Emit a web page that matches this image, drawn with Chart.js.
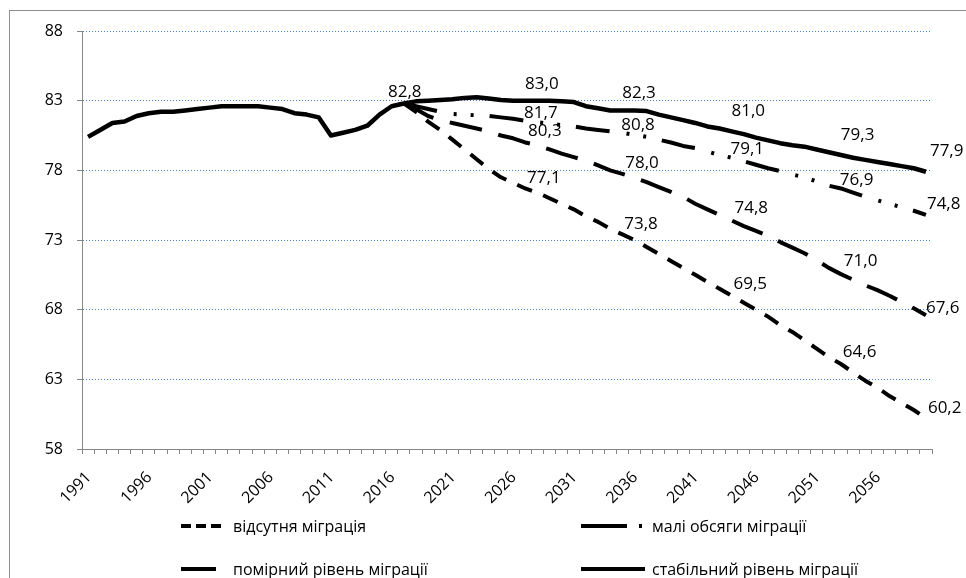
<!DOCTYPE html>
<html><head><meta charset="utf-8">
<script src="https://cdn.jsdelivr.net/npm/chart.js@4.4.1/dist/chart.umd.min.js"></script>
<style>
html,body{margin:0;padding:0;background:#fff;}
#wrap{position:relative;width:966px;height:578px;overflow:hidden;}
#frame{position:absolute;left:9px;top:10px;width:1000px;height:600px;border:1px solid #8e8e8e;box-sizing:border-box;}
canvas{position:absolute;left:0;top:0;}
.leg{position:absolute;height:20px;font-family:'Open Sans',sans-serif;font-size:16px;color:#000;white-space:nowrap;line-height:20px;display:flex;align-items:center;}
.leg svg{margin-right:7px;}
</style></head><body>
<div id="wrap"><div id="frame"></div><canvas id="c" width="966" height="578"></canvas><div id="legend"></div></div>
<script>
// categories
const years = ['1991','1992','1993','1994','1995','1996','1997','1998','1999','2000',
 '2001','2002','2003','2004','2005','2006','2007','2008','2009','2010',
 '2011','2012','2013','2014','2015','2016','2017','2018','2019','2020',
 '2021','2022','2023','2024','2025','2026','2027','2028','2029','2030',
 '2031','2032','2033','2034','2035','2036','2037','2038','2039','2040',
 '2041','2042','2043','2044','2045','2046','2047','2048','2049','2050',
 '2051','2052','2053','2054','2055','2056','2057','2058','2059','2060'];
// tick labels shown on the x axis
const xTickLabels = ['1991','1996','2001','2006','2011','2016','2021','2026','2031','2036','2041','2046','2051','2056'];

// actual data 1991–2017
const historical = [80.4, 80.9, 81.4, 81.5, 81.9, 82.1, 82.2, 82.2, 82.3, 82.4,
 82.5, 82.6, 82.6, 82.6, 82.6, 82.5, 82.4, 82.1, 82.0, 81.8,
 80.5, 80.7, 80.9, 81.2, 82.0, 82.6, 82.8];

// projections 2018–2060
const noMigration = [82.2, 81.5, 80.9, 80.2, 79.5, 78.8, 78.1, 77.5, 77.1,
 76.7, 76.4, 76.0, 75.6, 75.2, 74.7, 74.3, 73.8,
 73.4, 73.0, 72.5, 72.0, 71.5, 71.0, 70.5, 70.0, 69.5,
 69.0, 68.5, 68.0, 67.5, 66.9, 66.4, 65.8, 65.2, 64.6,
 64.1, 63.5, 62.9, 62.4, 61.8, 61.3, 60.8, 60.2];
const smallMigration = [82.6, 82.4, 82.2, 82.05, 82.0, 81.95, 81.9, 81.8, 81.7,
 81.55, 81.45, 81.35, 81.25, 81.15, 81.0, 80.9, 80.8,
 80.7, 80.55, 80.4, 80.2, 80.0, 79.75, 79.6, 79.35, 79.1,
 78.9, 78.65, 78.4, 78.15, 77.95, 77.7, 77.5, 77.2, 76.9,
 76.7, 76.4, 76.1, 75.85, 75.6, 75.35, 75.1, 74.8];
const moderateMigration = [82.4, 81.9, 81.6, 81.4, 81.2, 81.0, 80.8, 80.5, 80.3,
 80.0, 79.8, 79.5, 79.2, 78.95, 78.7, 78.35, 78.0,
 77.75, 77.45, 77.15, 76.8, 76.45, 76.1, 75.6, 75.2, 74.8,
 74.4, 74.0, 73.65, 73.3, 72.85, 72.45, 72.05, 71.55, 71.0,
 70.55, 70.15, 69.75, 69.4, 69.0, 68.55, 68.1, 67.6];
const stableMigration = [82.95, 83.0, 83.05, 83.1, 83.2, 83.25, 83.15, 83.05, 83.0,
 83.0, 83.0, 83.0, 82.95, 82.9, 82.6, 82.45, 82.3,
 82.3, 82.3, 82.25, 82.0, 81.8, 81.6, 81.4, 81.15, 81.0,
 80.8, 80.6, 80.35, 80.15, 79.95, 79.8, 79.7, 79.5, 79.3,
 79.1, 78.9, 78.75, 78.6, 78.45, 78.3, 78.15, 77.9];

const seriesNames = ['відсутня міграція', 'малі обсяги міграції', 'помірний рівень міграції', 'стабільний рівень міграції'];
const yTicks = [58, 63, 68, 73, 78, 83, 88];
const baseYear = '2017';
const labelYears = ['2026', '2034', '2043', '2052', '2060'];

const baseIdx = years.indexOf(baseYear);
const lead = historical.slice(0, baseIdx).map(() => null);
const proj = (arr) => lead.concat([historical[baseIdx]], arr);

const dashes = [[16, 12], [34, 17, 3, 14, 3, 16], [33, 17], []];
const widths = [4, 4, 4, 4.5];
const labelOffsets = [
  {dx: 14, dy: -5, lastDx: 2, lastDy: -10},
  {dx: 11, dy: -6, lastDx: 1, lastDy: -11},
  {dx: 15, dy: -7, lastDx: 0, lastDy: -7},
  {dx: 12, dy: -17, lastDx: 4, lastDy: -21}
];
const fmt = v => v.toFixed(1).replace('.', ',');
const FONT = "'Open Sans', sans-serif";

const datasets = [
  proj(noMigration), proj(smallMigration), proj(moderateMigration), historical.concat(stableMigration)
].map((d, i) => ({
  label: seriesNames[i], data: d, borderColor: '#000', backgroundColor: '#000',
  borderWidth: widths[i], borderDash: dashes[i], borderCapStyle: 'butt', borderJoinStyle: 'round',
  pointRadius: 0, tension: 0, fill: false
}));

const labelPlugin = {
  id: 'valueLabels',
  afterDatasetsDraw(chart) {
    const ctx = chart.ctx;
    ctx.save();
    ctx.font = '17px ' + FONT;
    ctx.fillStyle = '#000';
    ctx.textBaseline = 'middle';
    const lastIdx = years.length - 1;
    chart.data.datasets.forEach((ds, di) => {
      const meta = chart.getDatasetMeta(di);
      const o = labelOffsets[di];
      labelYears.forEach(yr => {
        const idx = years.indexOf(yr);
        const pt = meta.data[idx];
        const last = idx === lastIdx;
        ctx.textAlign = 'left';
        ctx.fillText(fmt(ds.data[idx]), pt.x + (last ? o.lastDx : o.dx), pt.y + (last ? o.lastDy : o.dy));
      });
    });
    const meta = chart.getDatasetMeta(3);
    const p = meta.data[baseIdx];
    ctx.textAlign = 'center';
    ctx.fillText(fmt(chart.data.datasets[3].data[baseIdx]), p.x + 1, p.y - 11);
    ctx.restore();
  }
};

// rotated x tick labels (45°), right end of baseline just right of the tick
const xLabelPlugin = {
  id: 'xLabels',
  afterDraw(chart) {
    const ctx = chart.ctx;
    const sx = chart.scales.x;
    ctx.save();
    ctx.font = '16px ' + FONT;
    ctx.fillStyle = '#000';
    ctx.textAlign = 'right';
    ctx.textBaseline = 'alphabetic';
    xTickLabels.forEach(lbl => {
      const x = sx.getPixelForValue(years.indexOf(lbl));
      ctx.save();
      ctx.translate(x + 4, sx.top + 29);
      ctx.rotate(-Math.PI / 4);
      ctx.fillText(lbl, 0, 0);
      ctx.restore();
    });
    ctx.restore();
  }
};

new Chart(document.getElementById('c'), {
  type: 'line',
  data: {labels: years, datasets},
  plugins: [labelPlugin, xLabelPlugin],
  options: {
    responsive: false, animation: false, devicePixelRatio: 1,
    layout: {padding: {left: 0, right: 34, top: 31, bottom: 69}},
    plugins: {legend: {display: false}, tooltip: {enabled: false}},
    scales: {
      x: {
        type: 'category', offset: true,
        grid: {display: true, drawOnChartArea: false, drawTicks: true, tickLength: 5, color: '#868686', offset: true},
        border: {color: '#868686', width: 1},
        ticks: {display: false, autoSkip: false},
        afterFit: s => { s.height = 60; }
      },
      y: {
        min: yTicks[0], max: yTicks[yTicks.length - 1],
        afterBuildTicks: s => { s.ticks = yTicks.map(v => ({value: v})); },
        grid: {color: c => (c.tick && c.tick.value === yTicks[0] ? 'rgba(0,0,0,0)' : '#4A7EBB'),
          tickColor: '#868686', tickLength: 5, tickBorderDash: [], drawTicks: true},
        border: {color: '#868686', width: 1, dash: [1, 2]},
        ticks: {padding: 14, color: '#000', font: {family: FONT, size: 16}},
        afterFit: s => { s.width = 82; }
      }
    }
  }
});

// legend (2 x 2 grid under the plot)
const legendItems = [
  {left: 181, top: 516, len: 45, dash: '10 5'},
  {left: 581, top: 516, len: 64, dash: '46 12 3 100'},
  {left: 181, top: 559, len: 45, dash: '35 100'},
  {left: 581, top: 559, len: 64, dash: ''}
];
const legend = document.getElementById('legend');
legendItems.forEach((it, i) => {
  const d = document.createElement('div');
  d.className = 'leg';
  d.style.left = it.left + 'px';
  d.style.top = it.top + 'px';
  const ns = 'http://www.w3.org/2000/svg';
  const svg = document.createElementNS(ns, 'svg');
  svg.setAttribute('width', it.len); svg.setAttribute('height', 20);
  const ln = document.createElementNS(ns, 'line');
  ln.setAttribute('x1', 0); ln.setAttribute('x2', it.len);
  ln.setAttribute('y1', 10); ln.setAttribute('y2', 10);
  ln.setAttribute('stroke', '#000'); ln.setAttribute('stroke-width', 4);
  if (it.dash) ln.setAttribute('stroke-dasharray', it.dash);
  svg.appendChild(ln);
  d.appendChild(svg);
  const sp = document.createElement('span');
  sp.textContent = seriesNames[i];
  d.appendChild(sp);
  legend.appendChild(d);
});
</script>
</body></html>
